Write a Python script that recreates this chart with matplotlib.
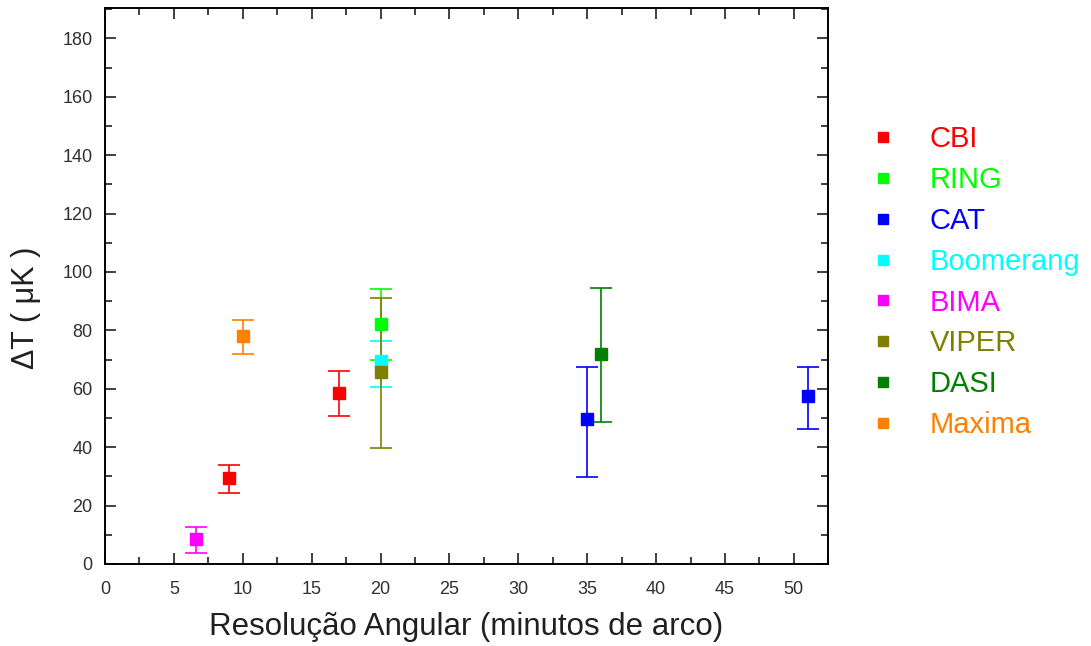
import matplotlib.pyplot as plt
from matplotlib.lines import Line2D
from matplotlib.ticker import MultipleLocator

plt.rcParams['font.family'] = ['Liberation Sans', 'DejaVu Sans']

# experiments, colours and points (x, y, lower end, upper end of the bar)
names = ["CBI", "RING", "CAT", "Boomerang", "BIMA", "VIPER", "DASI", "Maxima"]
colors = ["#ff0000", "#00ff00", "#0000ff", "#00ffff", "#ff00ff", "#808000", "#008000", "#ff8000"]
res_x = [[9, 17], [20], [35, 51], [20], [6.6], [20], [36], [10]]
dT = [[29.6, 58.6], [82.2], [49.5, 57.4], [69.4], [8.6], [65.8], [71.8], [78.2]]
dT_low = [[24.4, 50.6], [69.9], [29.9, 46.3], [60.7], [3.9], [39.8], [48.6], [72.0]]
dT_high = [[34.0, 66.2], [94.3], [67.5, 67.5], [76.5], [12.8], [91.2], [94.6], [83.5]]

fig = plt.figure(figsize=(10.91, 6.46), dpi=100)
ax = fig.add_axes([0.0962, 0.127, 0.663, 0.861])

handles = []
for i in range(len(names)):
    lo = [y - l for y, l in zip(dT[i], dT_low[i])]
    hi = [h - y for y, h in zip(dT[i], dT_high[i])]
    ax.errorbar(res_x[i], dT[i], yerr=[lo, hi], fmt='s', color=colors[i],
                ms=8, elinewidth=1.2, capsize=8, capthick=1.2)
    handles.append(Line2D([], [], ls='none', marker='s', ms=7.5, color=colors[i]))

ax.set_xlim(0, 52.5)
ax.set_ylim(0, 190.5)
ax.xaxis.set_major_locator(MultipleLocator(5))
ax.xaxis.set_minor_locator(MultipleLocator(2.5))
ax.yaxis.set_major_locator(MultipleLocator(20))
ax.yaxis.set_minor_locator(MultipleLocator(10))
ax.tick_params(which='both', direction='in', top=True, right=True, labelsize=13,
               width=1.2, colors='#202020', labelcolor='#303030')
ax.tick_params(which='major', length=8)
ax.tick_params(which='minor', length=5)
ax.tick_params(axis='x', which='major', pad=12)
ax.tick_params(axis='y', which='major', pad=9)
for s in ax.spines.values():
    s.set_linewidth(1.4)

ax.set_xlabel("Resolução Angular (minutos de arco)", fontsize=22.5, color='#202020', labelpad=10)
ax.set_ylabel("ΔT ( μK )", fontsize=22, color='#202020', labelpad=15)
ax.yaxis.label.set_y(0.46)  # label sits a bit below the middle

leg = fig.legend(handles, names, loc='upper left', bbox_to_anchor=(0.796, 0.806),
                 frameon=False, fontsize=21, handlelength=1.0, handletextpad=1.1,
                 labelspacing=0.44, borderpad=0, borderaxespad=0)
for txt, c in zip(leg.get_texts(), colors):
    txt.set_color(c)

fig.savefig("out.png", dpi=100)
